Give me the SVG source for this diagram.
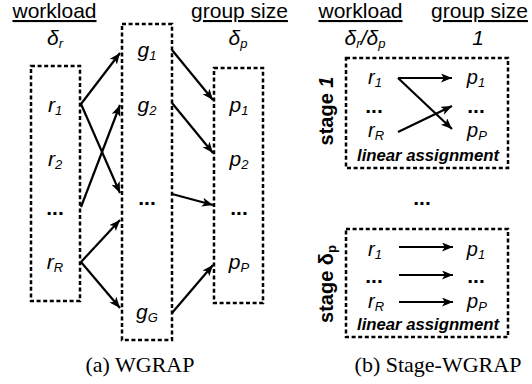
<svg xmlns="http://www.w3.org/2000/svg" width="532" height="384" viewBox="0 0 532 384">
<style>
.bg{fill:#fff}
.box{fill:none;stroke:#000;stroke-width:2.5;stroke-dasharray:4 2.6}
.hdr{font-family:"Liberation Sans",Arial,sans-serif;font-size:21px;text-decoration:underline;text-anchor:middle;fill:#000}
.lab{font-family:"Liberation Sans",Arial,sans-serif;font-size:21px;font-style:italic;text-anchor:middle;fill:#000}
.lab2{font-family:"Liberation Sans",Arial,sans-serif;font-size:20px;font-style:italic;text-anchor:middle;fill:#000}
.sub{font-size:13px}
.dots{font-family:"Liberation Sans",Arial,sans-serif;font-size:21px;font-weight:bold;text-anchor:middle;fill:#000}
.stage{font-family:"Liberation Sans",Arial,sans-serif;font-size:20px;font-weight:bold;text-anchor:middle;fill:#000}
.lin{font-family:"Liberation Sans",Arial,sans-serif;font-size:16px;font-weight:bold;font-style:italic;text-anchor:middle;fill:#000}
.cap{font-family:"Liberation Serif","Times New Roman",serif;font-size:22px;text-anchor:middle;fill:#000}
.arr{stroke:#000;stroke-width:2.2;fill:none;marker-end:url(#ah)}
</style>
<defs>
<marker id="ah" markerUnits="userSpaceOnUse" markerWidth="13" markerHeight="10" refX="11" refY="4.5" orient="auto">
<path d="M0,0 L11,4.5 L0,9 L2.8,4.5 Z" fill="#000"/>
</marker>
</defs>
<rect class="bg" x="0" y="0" width="532" height="384"/>

<g id="panel-a-headers">
<text class="hdr" x="54.5" y="18">workload</text>
<text class="hdr" x="239.5" y="18">group size</text>
<text class="lab" x="55" y="45">δ<tspan class="sub" dy="3">r</tspan></text>
<text class="lab" x="238" y="45">δ<tspan class="sub" dy="3">p</tspan></text>
</g>

<g id="node-r">
<rect class="box" x="31" y="66" width="49" height="235"/>
<text class="lab" x="55" y="112">r<tspan class="sub" dy="3">1</tspan></text>
<text class="lab" x="55" y="166">r<tspan class="sub" dy="3">2</tspan></text>
<text class="dots" x="55" y="215">...</text>
<text class="lab" x="55" y="269">r<tspan class="sub" dy="3">R</tspan></text>
</g>

<g id="node-g">
<rect class="box" x="122" y="24" width="50" height="316"/>
<text class="lab" x="147" y="57">g<tspan class="sub" dy="3">1</tspan></text>
<text class="lab" x="147" y="112">g<tspan class="sub" dy="3">2</tspan></text>
<text class="dots" x="147" y="205">...</text>
<text class="lab" x="147" y="319">g<tspan class="sub" dy="3">G</tspan></text>
</g>

<g id="node-p">
<rect class="box" x="214" y="68" width="49" height="235"/>
<text class="lab" x="239" y="112">p<tspan class="sub" dy="3">1</tspan></text>
<text class="lab" x="239" y="166">p<tspan class="sub" dy="3">2</tspan></text>
<text class="dots" x="239" y="215">...</text>
<text class="lab" x="239" y="269">p<tspan class="sub" dy="3">P</tspan></text>
</g>

<g id="panel-b-headers">
<text class="hdr" x="360.5" y="18">workload</text>
<text class="hdr" x="479.5" y="18">group size</text>
<text class="lab" x="365" y="45">δ<tspan class="sub" dy="3">r</tspan><tspan dy="-3">/δ</tspan><tspan class="sub" dy="3">p</tspan></text>
<text class="lab" x="478" y="45">1</text>
</g>

<g id="stage-1">
<rect class="box" x="346" y="58" width="162" height="110"/>
<text class="stage" transform="translate(333,111) rotate(-90)">stage <tspan font-style="italic">1</tspan></text>
<text class="lab2" x="375" y="84">r<tspan class="sub" dy="3">1</tspan></text>
<text class="dots" x="374" y="113">...</text>
<text class="lab2" x="376" y="137">r<tspan class="sub" dy="3">R</tspan></text>
<text class="lab2" x="476" y="84">p<tspan class="sub" dy="3">1</tspan></text>
<text class="dots" x="476" y="113">...</text>
<text class="lab2" x="477" y="137">p<tspan class="sub" dy="3">P</tspan></text>
<text class="lin" x="428" y="161" textLength="142" lengthAdjust="spacingAndGlyphs">linear assignment</text>
</g>

<text class="dots" x="422" y="205">...</text>

<g id="stage-dp">
<rect class="box" x="346" y="229" width="162" height="108"/>
<text class="stage" transform="translate(333,284) rotate(-90)">stage δ<tspan class="sub" dy="3">p</tspan></text>
<text class="lab2" x="375" y="256">r<tspan class="sub" dy="3">1</tspan></text>
<text class="dots" x="374" y="283">...</text>
<text class="lab2" x="376" y="308">r<tspan class="sub" dy="3">R</tspan></text>
<text class="lab2" x="476" y="256">p<tspan class="sub" dy="3">1</tspan></text>
<text class="dots" x="476" y="283">...</text>
<text class="lab2" x="477" y="308">p<tspan class="sub" dy="3">P</tspan></text>
<text class="lin" x="428" y="330" textLength="142" lengthAdjust="spacingAndGlyphs">linear assignment</text>
</g>

<g id="connectors">
<line class="arr" x1="81" y1="104" x2="120" y2="53"/>
<line class="arr" x1="81" y1="104" x2="120" y2="193"/>
<line class="arr" x1="81" y1="207" x2="120" y2="105"/>
<line class="arr" x1="81" y1="262" x2="120" y2="220"/>
<line class="arr" x1="81" y1="262" x2="120" y2="308"/>
<line class="arr" x1="172" y1="50" x2="213" y2="100"/>
<line class="arr" x1="172" y1="103" x2="213" y2="153"/>
<line class="arr" x1="172" y1="194" x2="213" y2="205"/>
<line class="arr" x1="172" y1="313" x2="213" y2="265"/>
<line class="arr" x1="398" y1="78" x2="452" y2="78"/>
<line class="arr" x1="398" y1="78" x2="452" y2="129"/>
<line class="arr" x1="398" y1="132" x2="452" y2="106"/>
<line class="arr" x1="399" y1="247" x2="453" y2="247"/>
<line class="arr" x1="399" y1="275" x2="453" y2="275"/>
<line class="arr" x1="399" y1="302" x2="453" y2="302"/>
</g>

<text class="cap" x="140" y="372">(a) WGRAP</text>
<text class="cap" x="438" y="372">(b) Stage-WGRAP</text>
</svg>
